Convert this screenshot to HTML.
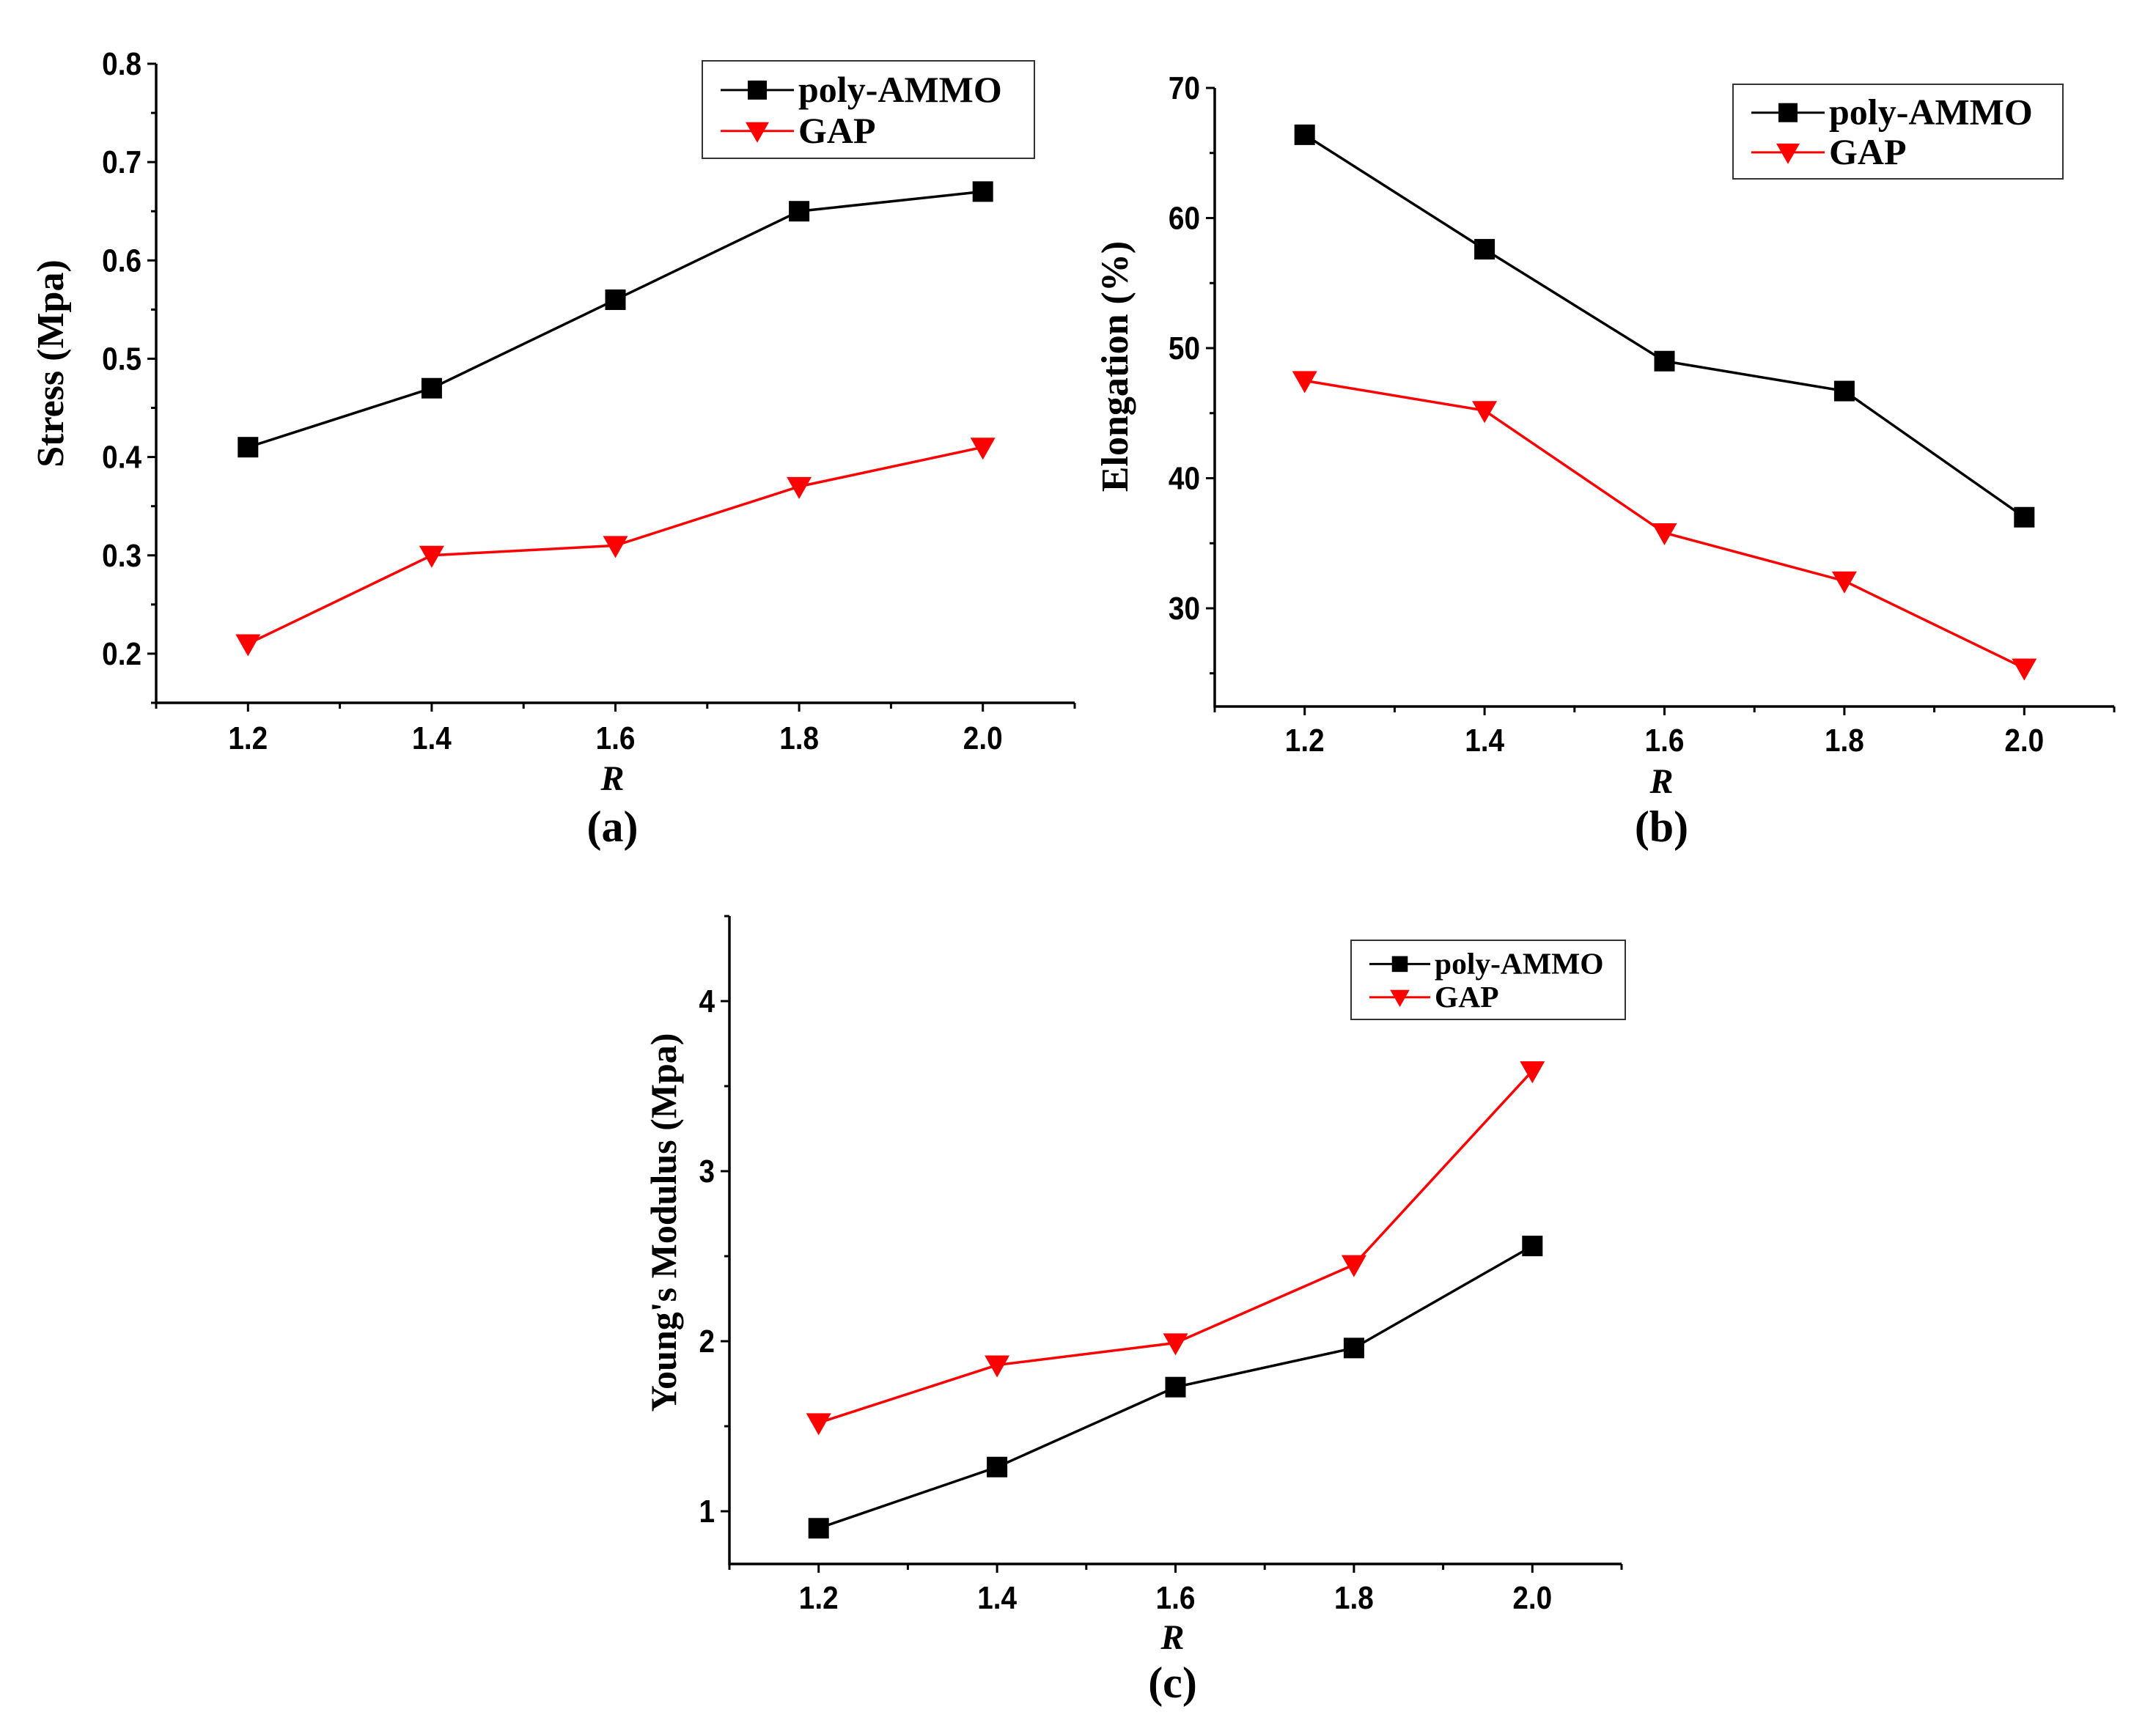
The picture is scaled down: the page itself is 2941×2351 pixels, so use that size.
<!DOCTYPE html>
<html><head><meta charset="utf-8"><style>
html,body{margin:0;padding:0;background:#fff;}
svg{display:block;}
.tk{font-family:"Liberation Sans",sans-serif;font-weight:bold;font-size:44px;}
.tm{font-family:"Liberation Serif",serif;font-weight:bold;}
</style></head><body>
<svg id="fig" width="2941" height="2351" viewBox="0 0 2941 2351" xmlns="http://www.w3.org/2000/svg"></svg>
<script>
const categoriesR = [1.2, 1.4, 1.6, 1.8, 2.0];
const xTickLabels = ["1.2", "1.4", "1.6", "1.8", "2.0"];
const stressAmmo = [0.41, 0.47, 0.56, 0.65, 0.67];
const stressGap = [0.21, 0.30, 0.31, 0.37, 0.41];
const stressTicks = [0.2, 0.3, 0.4, 0.5, 0.6, 0.7, 0.8];
const stressTickLabels = ["0.2", "0.3", "0.4", "0.5", "0.6", "0.7", "0.8"];
const elongAmmo = [66.4, 57.6, 49.0, 46.7, 37.0];
const elongGap = [47.5, 45.2, 35.8, 32.1, 25.4];
const elongTicks = [30, 40, 50, 60, 70];
const elongTickLabels = ["30", "40", "50", "60", "70"];
const modAmmo = [0.90, 1.26, 1.73, 1.96, 2.56];
const modGap = [1.52, 1.86, 1.99, 2.45, 3.59];
const modTicks = [1, 2, 3, 4];
const modTickLabels = ["1", "2", "3", "4"];

const NS = "http://www.w3.org/2000/svg";
const svg = document.getElementById('fig');
function mk(tag, attrs, parent, text) {
  const e = document.createElementNS(NS, tag);
  for (const k in attrs) e.setAttribute(k, attrs[k]);
  if (text !== undefined) e.textContent = text;
  (parent || svg).appendChild(e);
  return e;
}
function tickText(g, x, y, anchor, str) {
  const t = mk('text', {x: 0, y: 0, 'text-anchor': anchor, class: 'tk', transform: `translate(${x},${y}) scale(0.88,1)`}, g, str);
  return t;
}

function panel(cfg) {
  const g = mk('g', {});
  
  
  const sx = v => cfg.x0 + (v - cfg.xmin) / (cfg.xmax - cfg.xmin) * (cfg.x1 - cfg.x0);
  const sy = v => cfg.yb + (v - cfg.ymin) / (cfg.ymax - cfg.ymin) * (cfg.yt - cfg.yb);
  const ax = mk('path', {d: `M${cfg.x0},${cfg.yt} V${cfg.yb} H${cfg.x1}`, fill: 'none', stroke: '#000', 'stroke-width': 3.5}, g);
  
  
  cfg.yTicks.forEach((t, i) => {
    const y = sy(t);
    mk('line', {x1: cfg.x0 - 12, x2: cfg.x0, y1: y, y2: y, stroke: '#000', 'stroke-width': 3}, g);
    const lb = tickText(g, cfg.x0 - 20, y + 15, 'end', cfg.yLabels[i]);
    
    
    const m = t + cfg.yStep / 2;
    if (m < cfg.ymax + 1e-9) mk('line', {x1: cfg.x0 - 7, x2: cfg.x0, y1: sy(m), y2: sy(m), stroke: '#000', 'stroke-width': 3}, g);
    const m2 = t - cfg.yStep / 2;
    if (i === 0 && m2 > cfg.ymin) mk('line', {x1: cfg.x0 - 7, x2: cfg.x0, y1: sy(m2), y2: sy(m2), stroke: '#000', 'stroke-width': 3}, g);
  });
  for (let v = cfg.xmin; v <= cfg.xmax + 1e-9; v += 0.1) {
    const major = categoriesR.some(c => Math.abs(c - v) < 1e-6);
    mk('line', {x1: sx(v), x2: sx(v), y1: cfg.yb, y2: cfg.yb + (major ? 12 : 8), stroke: '#000', 'stroke-width': 3}, g);
  }
  categoriesR.forEach((c, i) => {
    const lb = tickText(g, sx(c), cfg.tickY, 'middle', xTickLabels[i]);
    
    
  });
  const xt = mk('text', {x: (cfg.x0 + cfg.x1) / 2 - 4, y: cfg.rY, 'text-anchor': 'middle', class: 'tm', 'font-size': 48, 'font-style': 'italic'}, g, 'R');
  
  
  const cap = mk('text', {x: (cfg.x0 + cfg.x1) / 2 - 4, y: cfg.capY, 'text-anchor': 'middle', class: 'tm', 'font-size': 60}, g, cfg.caption);
  
  
  const yt = mk('text', {x: 0, y: 0, 'text-anchor': 'middle', class: 'tm', 'font-size': cfg.ytSize, transform: `translate(${cfg.ylx},${cfg.lyc}) rotate(-90)`}, g, cfg.yTitle);
  
  
  function series(vals, color, marker, nm) {
    const sg = mk('g', {}, g);
    
    
    const pts = vals.map((v, i) => [sx(categoriesR[i]), sy(v)]);
    mk('polyline', {points: pts.map(p => p.join(',')).join(' '), fill: 'none', stroke: color, 'stroke-width': 3.5}, sg);
    pts.forEach(p => {
      let m;
      if (marker === 'sq') m = mk('rect', {x: p[0] - 14, y: p[1] - 14, width: 28, height: 28, fill: color}, sg);
      else m = mk('path', {d: `M${p[0] - 17},${p[1] - 13} H${p[0] + 17} L${p[0]},${p[1] + 17} Z`, fill: color}, sg);
      
      
    });
  }
  series(cfg.a, '#000', 'sq', 'series-poly-ammo');
  series(cfg.b, '#ff0000', 'tri', 'series-gap');
  const L = cfg.leg;
  const lg = mk('g', {}, g);
  
  
  mk('rect', {x: L.x, y: L.y, width: L.w, height: L.h, fill: '#fff', stroke: '#333', 'stroke-width': 2}, lg);
  const r1 = L.y + L.h * 0.3, r2 = L.y + L.h * 0.72, lx = L.x + 25, lw = 100 * L.s;
  mk('line', {x1: lx, x2: lx + lw, y1: r1, y2: r1, stroke: '#000', 'stroke-width': 3}, lg);
  mk('rect', {x: lx + lw / 2 - 13 * L.s, y: r1 - 13 * L.s, width: 26 * L.s, height: 26 * L.s, fill: '#000'}, lg);
  mk('line', {x1: lx, x2: lx + lw, y1: r2, y2: r2, stroke: '#ff0000', 'stroke-width': 3}, lg);
  const c = lx + lw / 2;
  mk('path', {d: `M${c - 16 * L.s},${r2 - 12 * L.s} H${c + 16 * L.s} L${c},${r2 + 16 * L.s} Z`, fill: '#ff0000'}, lg);
  const e1 = mk('text', {x: lx + lw + 6, y: r1 + 16 * L.s, class: 'tm', 'font-size': 50 * L.s}, lg, 'poly-AMMO');
  
  
  const e2 = mk('text', {x: lx + lw + 6, y: r2 + 16 * L.s, class: 'tm', 'font-size': 50 * L.s}, lg, 'GAP');
  
  
}

panel({name: 'panel-a-stress', x0: 213, x1: 1466, xmin: 1.1, xmax: 2.1, yb: 959, yt: 87, ymin: 0.15, ymax: 0.8,
  yTicks: stressTicks, yLabels: stressTickLabels, yStep: 0.1, a: stressAmmo, b: stressGap,
  tickY: 1022, rY: 1078, capY: 1148, caption: '(a)', yTitle: 'Stress (Mpa)', ytSize: 52, ylx: 86, lyc: 496,
  leg: {x: 958, y: 83, w: 453, h: 133, s: 1}});
panel({name: 'panel-b-elongation', x0: 1657, x1: 2884, xmin: 1.1, xmax: 2.1, yb: 964, yt: 120, ymin: 22.45, ymax: 70,
  yTicks: elongTicks, yLabels: elongTickLabels, yStep: 10, a: elongAmmo, b: elongGap,
  tickY: 1025, rY: 1082, capY: 1148, caption: '(b)', yTitle: 'Elongation (%)', ytSize: 52, ylx: 1538, lyc: 500,
  leg: {x: 2364, y: 115, w: 450, h: 129, s: 1}});
panel({name: 'panel-c-youngs-modulus', x0: 995, x1: 2212, xmin: 1.1, xmax: 2.1, yb: 2134, yt: 1250, ymin: 0.69, ymax: 4.5,
  yTicks: modTicks, yLabels: modTickLabels, yStep: 1, a: modAmmo, b: modGap,
  tickY: 2195, rY: 2250, capY: 2316, caption: '(c)', yTitle: "Young's Modulus (Mpa)", ytSize: 50, ylx: 922, lyc: 1668,
  leg: {x: 1843, y: 1283, w: 374, h: 108, s: 0.83}});
</script>
</body></html>
